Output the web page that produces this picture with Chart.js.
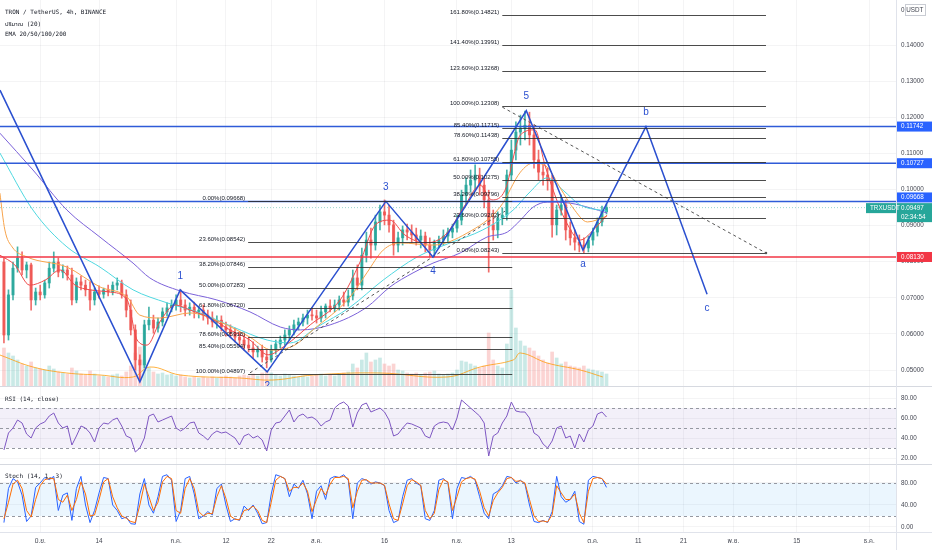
<!DOCTYPE html>
<html>
<head>
<meta charset="utf-8">
<title>TRXUSDT 4h</title>
<script src="https://cdn.jsdelivr.net/npm/chart.js@4.4.1/dist/chart.umd.min.js"></script>
<style>
  html, body { margin: 0; padding: 0; background: #fff; }
</style>
</head>
<body>
<canvas id="trxChart" width="932" height="550"></canvas>
<script>
// ---- candles (one per day, day 0 = 1 June) ----
var candleStartDay = -8;
var openP = [
  0.0799,0.0597,0.0708,0.0782,0.0810,0.0777,0.0791,0.0694,
  0.0716,0.0708,0.0741,0.0782,0.0799,0.0771,0.0777,0.0763,0.0694,0.0744,
  0.0735,0.0722,0.0694,0.0716,0.0710,0.0722,0.0716,0.0735,0.0741,0.0708,
  0.0666,0.0611,0.0528,0.0514,0.0625,0.0638,0.0616,0.0633,0.0661,0.0672,
  0.0680,0.0694,0.0680,0.0666,0.0674,0.0661,0.0666,0.0652,0.0644,0.0633,
  0.0638,0.0619,0.0611,0.0602,0.0591,0.0583,0.0569,0.0561,0.0550,0.0555,
  0.0536,0.0528,0.0555,0.0572,0.0583,0.0597,0.0611,0.0625,0.0633,0.0644,
  0.0652,0.0650,0.0644,0.0661,0.0677,0.0672,0.0680,0.0694,0.0688,0.0705,
  0.0755,0.0735,0.0818,0.0860,0.0846,0.0910,0.0938,0.0929,0.0902,0.0846,
  0.0866,0.0888,0.0882,0.0874,0.0860,0.0871,0.0846,0.0832,0.0852,0.0860,
  0.0871,0.0882,0.0893,0.0915,0.0985,0.1012,0.1026,0.1040,0.1012,0.0971,
  0.0902,0.0888,0.0921,0.0929,0.1040,0.1109,0.1159,0.1170,0.1178,0.1151,
  0.1082,0.1048,0.1040,0.1026,0.0902,0.0943,0.0957,0.0888,0.0866,0.0854,
  0.0846,0.0838,0.0860,0.0882,0.0910,0.0938
];
var highP = [
  0.0810,0.0722,0.0799,0.0841,0.0827,0.0799,0.0796,0.0727,
  0.0735,0.0749,0.0799,0.0827,0.0810,0.0791,0.0788,0.0782,0.0755,0.0760,
  0.0749,0.0744,0.0727,0.0733,0.0727,0.0735,0.0744,0.0755,0.0749,0.0722,
  0.0694,0.0625,0.0542,0.0638,0.0674,0.0652,0.0644,0.0672,0.0686,0.0694,
  0.0708,0.0722,0.0694,0.0686,0.0688,0.0677,0.0680,0.0666,0.0661,0.0650,
  0.0650,0.0633,0.0625,0.0616,0.0605,0.0597,0.0589,0.0578,0.0566,0.0569,
  0.0555,0.0569,0.0583,0.0594,0.0611,0.0622,0.0638,0.0644,0.0655,0.0666,
  0.0672,0.0666,0.0677,0.0683,0.0694,0.0694,0.0705,0.0716,0.0722,0.0777,
  0.0791,0.0838,0.0882,0.0893,0.0929,0.0957,0.0971,0.0957,0.0915,0.0882,
  0.0899,0.0904,0.0902,0.0893,0.0888,0.0882,0.0866,0.0860,0.0871,0.0888,
  0.0893,0.0904,0.0929,0.0998,0.1032,0.1054,0.1068,0.1059,0.1032,0.0998,
  0.0943,0.0938,0.0949,0.1054,0.1137,0.1187,0.1206,0.1217,0.1214,0.1178,
  0.1109,0.1068,0.1059,0.1040,0.0957,0.0985,0.0971,0.0910,0.0888,0.0874,
  0.0866,0.0871,0.0893,0.0921,0.0954,0.0960
];
var lowP = [
  0.0575,0.0583,0.0694,0.0771,0.0763,0.0755,0.0666,0.0680,
  0.0694,0.0699,0.0727,0.0771,0.0758,0.0755,0.0749,0.0680,0.0686,0.0722,
  0.0705,0.0666,0.0680,0.0699,0.0699,0.0705,0.0708,0.0722,0.0699,0.0647,
  0.0597,0.0500,0.0472,0.0506,0.0611,0.0602,0.0605,0.0622,0.0650,0.0661,
  0.0666,0.0661,0.0650,0.0652,0.0644,0.0644,0.0638,0.0627,0.0619,0.0616,
  0.0608,0.0594,0.0589,0.0578,0.0569,0.0555,0.0550,0.0533,0.0536,0.0522,
  0.0506,0.0522,0.0544,0.0561,0.0569,0.0583,0.0597,0.0611,0.0622,0.0627,
  0.0638,0.0630,0.0633,0.0644,0.0661,0.0661,0.0666,0.0677,0.0677,0.0694,
  0.0722,0.0722,0.0799,0.0810,0.0832,0.0888,0.0902,0.0882,0.0818,0.0827,
  0.0846,0.0860,0.0854,0.0846,0.0838,0.0827,0.0813,0.0813,0.0838,0.0846,
  0.0854,0.0866,0.0882,0.0902,0.0957,0.0993,0.0998,0.0985,0.0949,0.0771,
  0.0860,0.0866,0.0902,0.0915,0.1026,0.1082,0.1123,0.1137,0.1123,0.1059,
  0.1026,0.1012,0.0998,0.0868,0.0874,0.0929,0.0860,0.0846,0.0832,0.0827,
  0.0824,0.0827,0.0846,0.0871,0.0899,0.0932
];
var closeP = [
  0.0597,0.0708,0.0782,0.0810,0.0777,0.0791,0.0694,0.0716,
  0.0708,0.0741,0.0782,0.0799,0.0771,0.0777,0.0763,0.0694,0.0744,0.0735,
  0.0722,0.0694,0.0716,0.0710,0.0722,0.0716,0.0735,0.0741,0.0708,0.0666,
  0.0611,0.0528,0.0514,0.0625,0.0638,0.0616,0.0633,0.0661,0.0672,0.0680,
  0.0694,0.0680,0.0666,0.0674,0.0661,0.0666,0.0652,0.0644,0.0633,0.0638,
  0.0619,0.0611,0.0602,0.0591,0.0583,0.0569,0.0561,0.0550,0.0555,0.0536,
  0.0528,0.0555,0.0572,0.0583,0.0597,0.0611,0.0625,0.0633,0.0644,0.0652,
  0.0650,0.0644,0.0661,0.0677,0.0672,0.0680,0.0694,0.0688,0.0705,0.0755,
  0.0735,0.0818,0.0860,0.0846,0.0910,0.0938,0.0929,0.0902,0.0846,0.0866,
  0.0888,0.0882,0.0874,0.0860,0.0871,0.0846,0.0832,0.0852,0.0860,0.0871,
  0.0882,0.0893,0.0915,0.0985,0.1012,0.1026,0.1040,0.1012,0.0971,0.0902,
  0.0888,0.0921,0.0929,0.1040,0.1109,0.1159,0.1170,0.1178,0.1151,0.1082,
  0.1048,0.1040,0.1026,0.0902,0.0943,0.0957,0.0888,0.0866,0.0854,0.0846,
  0.0838,0.0860,0.0882,0.0910,0.0938,0.0950
];
var volume = [
  380,330,300,260,220,200,240,180,
  170,160,200,170,140,130,120,180,150,120,
  110,150,120,100,100,90,110,120,100,140,
  200,330,390,260,180,140,120,130,110,120,
  100,110,90,80,90,80,90,80,90,80,
  90,100,90,80,100,110,100,120,100,130,
  150,130,110,100,120,110,100,90,100,90,
  100,110,120,100,110,100,120,130,140,220,
  180,260,330,240,260,280,220,200,220,160,
  150,130,120,130,110,130,140,150,120,110,
  120,130,160,250,240,220,200,180,200,530,
  260,200,180,420,960,580,450,400,380,350,
  300,260,230,340,280,220,240,200,190,180,
  200,170,160,150,140,120
];
var rsi = [
  28,45,50,58,55,44,40,50,
  54,56,62,65,55,50,52,33,42,52,
  50,45,36,50,55,54,58,60,52,42,
  40,26,30,40,62,64,56,58,60,62,
  50,47,50,55,56,45,42,38,44,47,
  45,46,43,40,33,42,44,40,42,38,
  27,48,55,56,62,68,56,62,64,60,
  61,58,52,56,58,70,74,76,72,51,
  65,73,75,66,68,70,66,58,42,44,
  50,55,54,52,50,42,40,52,55,56,
  55,48,60,78,74,70,66,62,55,22,
  42,45,55,62,76,67,66,66,60,45,
  42,34,30,37,50,52,40,42,30,44,
  36,48,52,64,66,61
];
var stochK = [
  8,70,88,82,58,10,20,72,
  80,90,86,92,30,58,62,12,70,92,
  40,8,30,62,90,88,40,30,15,18,
  6,5,60,88,40,25,55,92,95,85,
  10,30,88,92,60,15,20,28,22,70,
  78,40,10,15,12,38,30,40,25,6,
  8,60,95,92,88,55,78,70,85,60,
  15,65,75,50,88,92,90,95,85,15,
  80,88,85,78,82,80,75,30,8,12,
  55,85,88,80,75,15,12,30,85,88,
  80,15,70,90,88,92,85,55,25,15,
  60,65,75,92,90,80,85,78,40,10,
  8,12,8,28,92,55,45,50,65,10,
  5,85,92,90,88,72
];
var stochD = [
  15,45,78,85,70,30,18,50,
  75,86,88,88,50,45,58,30,50,82,
  60,20,22,50,82,88,55,35,20,16,
  10,8,40,78,55,30,45,82,92,88,
  30,25,70,88,70,28,20,25,24,55,
  75,52,20,14,13,30,32,38,30,12,
  8,45,85,92,88,65,72,72,80,65,
  28,50,70,58,78,90,90,92,88,35,
  65,85,86,80,80,80,76,42,15,12,
  42,75,86,82,76,30,15,25,68,86,
  82,30,55,82,88,90,87,65,35,20,
  48,62,72,88,90,83,84,80,50,20,
  10,11,9,22,75,62,50,50,60,25,
  8,65,88,90,88,78
];

// ---- moving averages, [day, value] ----
var ema20 = [[-8.9,0.0818],[-5.6,0.0791],[-2.3,0.0735],[1.1,0.0749],[4.4,0.0777],[7.7,0.0735],[11,0.0722],
  [15.4,0.0716],[19.2,0.0694],[21.4,0.0583],[23.6,0.0569],[26.4,0.0633],[29.8,0.0680],[33.1,0.0666],
  [37.5,0.0644],[41.9,0.0611],[46.3,0.0583],[50.3,0.0542],[54.2,0.0569],[59.6,0.0625],[66.2,0.0694],
  [70.6,0.0799],[74,0.0902],[77.2,0.0915],[80.5,0.0874],[85,0.0852],[89.4,0.0874],[93.8,0.0957],
  [97.1,0.1012],[99.7,0.0971],[102.6,0.0998],[106,0.1151],[109.2,0.1165],[111.4,0.1068],[113.6,0.0985],
  [115.9,0.0915],[119.2,0.0860],[122.5,0.0893],[125.1,0.0929]];
var ema50 = [[-8.9,0.0990],[-7.8,0.0888],[-6.2,0.0841],[-2.9,0.0813],[5.9,0.0785],[13.2,0.0730],[19.2,0.0702],
  [22,0.0652],[26.4,0.0644],[33.1,0.0658],[39.7,0.0633],[46.3,0.0591],[51.2,0.0555],[56.2,0.0569],
  [60.2,0.0611],[68.4,0.0702],[72.1,0.0769],[75.7,0.0832],[79.4,0.0852],[86.7,0.0846],[94.2,0.0879],
  [101.5,0.0951],[106,0.1048],[108.8,0.1073],[111.9,0.1062],[114.8,0.1004],[117.6,0.0949],[120.8,0.0910],
  [125.1,0.0926]];
var ema100 = [[-8.9,0.1101],[-1.6,0.0943],[5.9,0.0841],[13.2,0.0785],[20.5,0.0722],[28,0.0686],[35.3,0.0658],
  [42.6,0.0619],[50.1,0.0583],[55.2,0.0575],[61.1,0.0619],[68.4,0.0674],[75.7,0.0749],[83.2,0.0813],
  [90.5,0.0852],[97.7,0.0888],[104.4,0.0943],[108.1,0.0993],[111.9,0.1032],[115.4,0.0998],[119.2,0.0957],
  [125.1,0.0940]];
var ema200 = [[-8.9,0.1156],[-1.6,0.1054],[5.9,0.0943],[13.2,0.0868],[20.5,0.0796],[24.2,0.0755],[30.9,0.0719],
  [39,0.0694],[46.3,0.0661],[53,0.0619],[57.4,0.0611],[64,0.0625],[72.1,0.0674],[77.2,0.0730],[82.3,0.0769],
  [86.7,0.0796],[92.7,0.0824],[98.6,0.0868],[103.1,0.0882],[106,0.0915],[108.8,0.0951],[111.9,0.0965],
  [117,0.0962],[121.4,0.0949],[125.1,0.0935]];
var volMa = [[-8.9,310],[-1.6,190],[5.9,130],[13.2,110],[20.5,90],[24.2,190],[30.9,110],[44,80],[51.4,60],
  [60.3,110],[75,130],[89.8,90],[97.1,190],[104.4,260],[106,330],[111.9,230],[119.2,160],[124.2,90]];

// ---- drawings ----
var waveDays   = [-8.87, 22.0, 30.9, 50.1, 76.3, 86.7, 107.3, 119.8, 133.7, 147.2];
var wavePrices = [0.1275, 0.0467, 0.0722, 0.0495, 0.0967, 0.0813, 0.1218, 0.0832, 0.1174, 0.0710];
var waveNames  = ['', '', '1', '2', '3', '4', '5', 'a', 'b', 'c'];
var blueLevels = [0.11742, 0.10727, 0.09668];
var redLevel = 0.0813;
var lastPrice = 0.09497;
var trendA = [[46.3, 0.0492], [102.6, 0.0940]];
var trendB = [[102.0, 0.1228], [160.2, 0.0824]];
var fib1Ratios = ['0.00%','23.60%','38.20%','50.00%','61.80%','78.60%','85.40%','100.00%'];
var fib1Prices = [0.09668, 0.08542, 0.07846, 0.07283, 0.06720, 0.05918, 0.05594, 0.04897];
var fib1Span = [45.9, 104.2];
var fib2Ratios = ['0.00%','23.60%','38.20%','50.00%','61.80%','78.60%','85.40%','100.00%','123.60%','141.40%','161.80%'];
var fib2Prices = [0.08243, 0.09202, 0.09796, 0.10275, 0.10755, 0.11438, 0.11715, 0.12308, 0.13268, 0.13991, 0.14821];
var fib2Span = [102.0, 160.2];

// ---- axes ----
var tickDays = [0, 13, 30, 41, 51, 61, 76, 92, 104, 122, 132, 142, 153, 167, 183];
var tickLabels = ['มิ.ย.', '14', 'ก.ค.', '12', '22', 'ส.ค.', '16', 'ก.ย.', '13', 'ต.ค.', '11', '21', 'พ.ย.', '15', 'ธ.ค.'];
var priceTicks = [0.05, 0.06, 0.07, 0.08, 0.09, 0.10, 0.11, 0.12, 0.13, 0.14];
var rsiTicks = [20, 40, 60, 80];
var stochTicks = [0, 40, 80];
var rsiLevels = [70, 50, 30];
var stochLevels = [80, 20];

var UP = 'rgba(38,166,154,0.85)', DOWN = 'rgba(239,83,80,0.85)', WAVE = '#2b50d0';
var AXIS_FONT = '"Liberation Sans", "Noto Sans Thai", Arial, sans-serif';
var candleDays = openP.map(function(_, i) { return candleStartDay + i; });
var xMin = -8.87, xMax = 188.9;

function pts(list) { return list.map(function(p) { return {x: p[0], y: p[1]}; }); }
function isUp(i) { return closeP[i] >= openP[i]; }

function hLine(ctx, x0, x1, y, color, width, dash) {
    ctx.save();
    ctx.strokeStyle = color;
    ctx.lineWidth = width;
    ctx.setLineDash(dash || []);
    ctx.beginPath();
    ctx.moveTo(x0, y);
    ctx.lineTo(x1, y);
    ctx.stroke();
    ctx.restore();
}

function tag(ctx, x, top, w, h, bg, lines, color) {
    ctx.fillStyle = bg;
    ctx.fillRect(x, top, w, h);
    ctx.fillStyle = color || '#fff';
    ctx.font = '6.3px ' + AXIS_FONT;
    ctx.textAlign = 'left';
    ctx.textBaseline = 'middle';
    lines.forEach(function(t, i) { ctx.fillText(t, x + 4, top + 5 + i * 9); });
}

var overlay = {
    id: 'overlay',
    beforeDatasetsDraw: function(chart) {
        var ctx = chart.ctx, a = chart.chartArea, s = chart.scales;
        ctx.save();
        var t = s.yRsi.getPixelForValue(70), b = s.yRsi.getPixelForValue(30);
        ctx.fillStyle = 'rgba(126,87,194,0.09)';
        ctx.fillRect(a.left, t, a.right - a.left, b - t);
        t = s.yStoch.getPixelForValue(80); b = s.yStoch.getPixelForValue(20);
        ctx.fillStyle = 'rgba(33,150,243,0.09)';
        ctx.fillRect(a.left, t, a.right - a.left, b - t);
        rsiLevels.forEach(function(v) {
            hLine(ctx, a.left, a.right, Math.round(s.yRsi.getPixelForValue(v)) + 0.5, '#9598a1', 1, [3, 3]);
        });
        stochLevels.forEach(function(v) {
            hLine(ctx, a.left, a.right, Math.round(s.yStoch.getPixelForValue(v)) + 0.5, '#9598a1', 1, [3, 3]);
        });
        ctx.restore();
    },
    afterDatasetsDraw: function(chart) {
        var ctx = chart.ctx, a = chart.chartArea, x = chart.scales.x, y = chart.scales.y;
        ctx.save();
        ctx.beginPath();
        ctx.rect(a.left, y.top, a.right - a.left, y.bottom - y.top);
        ctx.clip();
        function drawFib(ratios, prices, span) {
            var xs = x.getPixelForValue(span[0]), xe = x.getPixelForValue(span[1]);
            ctx.font = '6px ' + AXIS_FONT;
            ctx.textAlign = 'right';
            ctx.textBaseline = 'middle';
            prices.forEach(function(p, i) {
                var py = Math.round(y.getPixelForValue(p)) + 0.5;
                hLine(ctx, xs, xe, py, 'rgba(45,45,45,0.85)', 1);
                ctx.fillStyle = '#131722';
                ctx.fillText(ratios[i] + '(' + p.toFixed(5) + ')', xs - 3, py - 3);
            });
        }
        drawFib(fib1Ratios, fib1Prices, fib1Span);
        drawFib(fib2Ratios, fib2Prices, fib2Span);
        // end dot of the falling trend line
        ctx.fillStyle = '#555';
        ctx.beginPath();
        ctx.arc(x.getPixelForValue(trendB[1][0]), y.getPixelForValue(trendB[1][1]), 1.3, 0, Math.PI * 2);
        ctx.fill();
        // wave labels
        ctx.font = '10px ' + AXIS_FONT;
        ctx.textAlign = 'center';
        ctx.textBaseline = 'middle';
        ctx.fillStyle = WAVE;
        waveNames.forEach(function(n, i) {
            if (!n) return;
            var peak = wavePrices[i] > wavePrices[i - 1];
            ctx.fillText(n, x.getPixelForValue(waveDays[i]), y.getPixelForValue(wavePrices[i]) + (peak ? -14 : 14));
        });
        ctx.restore();
    },
    afterDraw: function(chart) {
        var ctx = chart.ctx, a = chart.chartArea, s = chart.scales;
        var W = chart.width, H = chart.height;
        ctx.save();
        hLine(ctx, 0, W, Math.round(s.y.bottom) + 0.5, '#d6d9e0', 1);
        hLine(ctx, 0, W, Math.round(s.yRsi.bottom) + 0.5, '#d6d9e0', 1);
        hLine(ctx, 0, W, Math.round(a.bottom) + 0.5, '#e0e3eb', 1);
        ctx.strokeStyle = '#e0e3eb';
        ctx.lineWidth = 1;
        ctx.beginPath();
        ctx.moveTo(Math.round(a.right) + 0.5, 0);
        ctx.lineTo(Math.round(a.right) + 0.5, H);
        ctx.stroke();

        // price tags on the axis
        var ax = Math.round(a.right) + 1, aw = W - ax;
        var nudge = [0, 0, -4];
        blueLevels.forEach(function(p, i) {
            var py = s.y.getPixelForValue(p) + nudge[i];
            tag(ctx, ax, py - 5, aw, 10, '#2962ff', [p.toFixed(5)]);
        });
        var ly = s.y.getPixelForValue(lastPrice);
        tag(ctx, ax, ly - 4.5, aw, 19, '#26a69a', [lastPrice.toFixed(5), '02:34:54']);
        tag(ctx, ax - 31, ly - 4.5, 30, 10, '#26a69a', ['TRXUSDT']);
        var ry = s.y.getPixelForValue(redLevel);
        tag(ctx, ax, ry - 5, aw, 10, '#f23645', [redLevel.toFixed(5)]);

        ctx.fillStyle = '#434651';
        ctx.font = '6.3px ' + AXIS_FONT;
        ctx.textAlign = 'left';
        ctx.textBaseline = 'middle';
        ctx.fillText('0 USDT', ax + 4, 10);
        ctx.strokeStyle = '#c9ccd3';
        ctx.strokeRect(ax + 8.5, 4.5, 20, 11);

        // legend + pane titles
        ctx.fillStyle = '#131722';
        ctx.font = '6px "DejaVu Sans Mono", "Noto Sans Thai", monospace';
        ctx.fillText('TRON / TetherUS, 4h, BINANCE', 5, 12);
        ctx.fillText('ปริมาณ (20)', 5, 24);
        ctx.fillText('EMA 20/50/100/200', 5, 34);
        ctx.fillText('RSI (14, close)', 5, s.yRsi.top + 13);
        ctx.fillText('Stoch (14, 1, 3)', 5, s.yStoch.top + 12);
        ctx.restore();
    }
};

function lineDs(data, color, axis, extra) {
    var ds = {type: 'line', data: data, yAxisID: axis || 'y', borderColor: color, borderWidth: 1,
              pointRadius: 0, fill: false, tension: 0};
    for (var k in extra) ds[k] = extra[k];
    return ds;
}

var datasets = [
    {type: 'bar', yAxisID: 'yVol', order: 30, grouped: false, barThickness: 3, borderWidth: 0,
     data: volume.map(function(v, i) { return {x: candleDays[i], y: v}; }),
     backgroundColor: function(c) { return isUp(c.dataIndex) ? 'rgba(38,166,154,0.25)' : 'rgba(239,83,80,0.25)'; }},
    lineDs(pts(volMa), 'rgba(255,152,0,0.75)', 'yVol', {order: 29, tension: 0.4}),
    {type: 'bar', yAxisID: 'y', order: 25, grouped: false, barThickness: 1, borderWidth: 0,
     data: candleDays.map(function(d, i) { return {x: d, y: [lowP[i], highP[i]]}; }),
     backgroundColor: function(c) { return isUp(c.dataIndex) ? UP : DOWN; }},
    {type: 'bar', yAxisID: 'y', order: 24, grouped: false, barThickness: 2.4, borderWidth: 0, minBarLength: 1,
     data: candleDays.map(function(d, i) { return {x: d, y: [openP[i], closeP[i]]}; }),
     backgroundColor: function(c) { return isUp(c.dataIndex) ? UP : DOWN; }},
    lineDs(pts(ema200), '#7b61d9', 'y', {order: 20, tension: 0.4, cubicInterpolationMode: 'monotone'}),
    lineDs(pts(ema100), '#4fd8e0', 'y', {order: 19, tension: 0.4, cubicInterpolationMode: 'monotone'}),
    lineDs(pts(ema50), '#f7a34b', 'y', {order: 18, tension: 0.4, cubicInterpolationMode: 'monotone'}),
    lineDs(pts(ema20), '#ef4a4a', 'y', {order: 17, tension: 0.4, cubicInterpolationMode: 'monotone'}),
    lineDs([{x: xMin, y: lastPrice}, {x: xMax, y: lastPrice}], 'rgba(38,166,154,0.45)', 'y', {order: 12, borderDash: [1, 2]})
];
blueLevels.forEach(function(p) {
    datasets.push(lineDs([{x: xMin, y: p}, {x: xMax, y: p}], '#2f5bd8', 'y', {order: 10, borderWidth: 1.6}));
});
datasets.push(lineDs([{x: xMin, y: redLevel}, {x: xMax, y: redLevel}], '#f23645', 'y', {order: 10, borderWidth: 1.6}));
datasets.push(lineDs(pts(trendA), '#555', 'y', {order: 9, borderDash: [3, 3]}));
datasets.push(lineDs(pts(trendB), '#555', 'y', {order: 9, borderDash: [3, 3]}));
datasets.push(lineDs(waveDays.map(function(d, i) { return {x: d, y: wavePrices[i]}; }), WAVE, 'y', {order: 8, borderWidth: 1.5}));
datasets.push(lineDs(rsi.map(function(v, i) { return {x: candleDays[i], y: v}; }), '#7e57c2', 'yRsi', {order: 5}));
datasets.push(lineDs(stochK.map(function(v, i) { return {x: candleDays[i], y: v}; }), '#2962ff', 'yStoch', {order: 5}));
datasets.push(lineDs(stochD.map(function(v, i) { return {x: candleDays[i], y: v}; }), '#ff6d00', 'yStoch', {order: 4}));

function noPad(sc) {
    sc.paddingTop = 0; sc.paddingBottom = 0; sc.paddingLeft = 0; sc.paddingRight = 0;
}

function paneAxis(weight, min, max, ticks, fmt) {
    return {
        type: 'linear', position: 'right', stack: 'panes', stackWeight: weight,
        min: min, max: max,
        afterBuildTicks: function(sc) { sc.ticks = ticks.map(function(v) { return {value: v}; }); },
        afterFit: function(sc) { sc.width = 36; noPad(sc); },
        grid: {color: 'rgba(42,46,57,0.05)', drawTicks: false},
        border: {display: false},
        ticks: {padding: 5, color: '#434651', font: {size: 6.3, family: AXIS_FONT},
                callback: function(v) { return v.toFixed(fmt); }}
    };
}

new Chart(document.getElementById('trxChart').getContext('2d'), {
    type: 'line',
    data: {datasets: datasets},
    options: {
        responsive: false,
        animation: false,
        layout: {padding: 0},
        plugins: {legend: {display: false}, tooltip: {enabled: false}},
        scales: {
            x: {
                type: 'linear', min: xMin, max: xMax, offset: false,
                afterBuildTicks: function(sc) { sc.ticks = tickDays.map(function(v) { return {value: v}; }); },
                afterFit: function(sc) { sc.height = 18; noPad(sc); },
                grid: {color: 'rgba(42,46,57,0.05)', drawTicks: false, offset: false},
                border: {display: false},
                ticks: {padding: 5, autoSkip: false, maxRotation: 0, color: '#434651',
                        font: {size: 6.3, family: AXIS_FONT},
                        callback: function(v, i) { return tickLabels[i]; }}
            },
            y: paneAxis(386, 0.04557, 0.15247, priceTicks, 5),
            yRsi: paneAxis(78, 14, 92, rsiTicks, 2),
            yStoch: paneAxis(68, -9.1, 114.5, stochTicks, 2),
            yVol: {type: 'linear', display: false, min: -1460, max: 3860, afterFit: noPad}
        }
    },
    plugins: [overlay]
});
</script>
</body>
</html>
